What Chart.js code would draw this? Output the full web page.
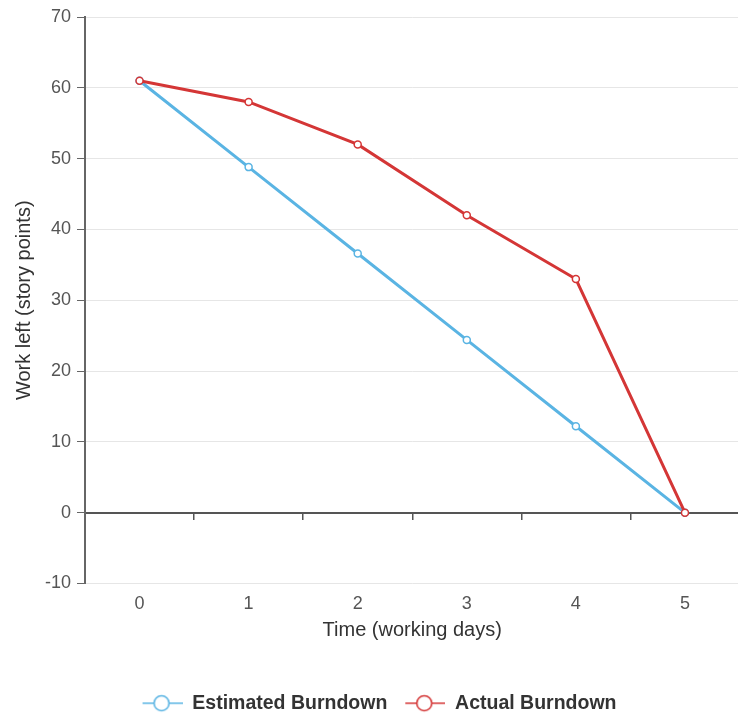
<!DOCTYPE html>
<html>
<head>
<meta charset="utf-8">
<script src="https://cdn.jsdelivr.net/npm/chart.js@4"></script>
<style>
  html, body { margin: 0; padding: 0; background: #fff; overflow: hidden; }
  #wrap { position: absolute; left: 0; top: 0; width: 745px; height: 723px; }
</style>
</head>
<body>
<div id="wrap"><canvas id="chart" width="745" height="723"></canvas></div>
<script>
// data
const days = ["0", "1", "2", "3", "4", "5"];
const estimated = [61, 48.8, 36.6, 24.4, 12.2, 0];
const actual = [61, 58, 52, 42, 33, 0];
const yTicks = { min: -10, max: 70, step: 10 };

const blue = "#5ab4e3";
const red = "#d43636";

Chart.defaults.font.family = "'Liberation Sans', Arial, Helvetica, sans-serif";

// legend icon: short line with an open circle on it
function legendIcon(color) {
  const c = document.createElement("canvas");
  c.width = 54;
  c.height = 20;
  const g = c.getContext("2d");
  g.strokeStyle = color;
  g.lineWidth = 1.6;
  g.beginPath();
  g.moveTo(14, 10);
  g.lineTo(54, 10);
  g.stroke();
  g.beginPath();
  g.arc(33, 10, 7.5, 0, Math.PI * 2);
  g.fillStyle = "#fff";
  g.fill();
  g.stroke();
  return c;
}
const icons = [legendIcon(blue), legendIcon(red)];

const ctx = document.getElementById("chart").getContext("2d");
new Chart(ctx, {
  type: "line",
  data: {
    labels: days,
    datasets: [
      {
        label: "Estimated Burndown",
        data: estimated,
        borderColor: blue,
        backgroundColor: "#fff",
        borderWidth: 3,
        pointRadius: 3.5,
        pointBorderWidth: 1.5,
        pointBackgroundColor: "#fff",
        pointBorderColor: blue,
        tension: 0,
        order: 1,
        xAxisID: "x",
      },
      {
        label: "Actual Burndown",
        data: actual,
        borderColor: red,
        backgroundColor: "#fff",
        borderWidth: 3,
        pointRadius: 3.5,
        pointBorderWidth: 1.5,
        pointBackgroundColor: "#fff",
        pointBorderColor: red,
        tension: 0,
        order: 0,
        xAxisID: "x",
      },
    ],
  },
  options: {
    responsive: false,
    animation: false,
    layout: { padding: { top: 17, left: 0, right: 0, bottom: 0 } },
    plugins: {
      tooltip: { enabled: false },
      legend: {
        position: "bottom",
        labels: {
          usePointStyle: true,
          pointStyleWidth: 54,
          padding: 4,
          color: "#333",
          font: { size: 19.5, weight: "bold" },
          sort: (a, b) => a.datasetIndex - b.datasetIndex,
          generateLabels: (chart) => {
            const items = Chart.defaults.plugins.legend.labels.generateLabels(chart);
            items.forEach((it) => { it.pointStyle = icons[it.datasetIndex]; });
            return items;
          },
        },
      },
    },
    scales: {
      x: {
        type: "category",
        offset: true,
        grid: { display: false, drawTicks: false },
        border: { display: false },
        ticks: { color: "#555", font: { size: 18 }, padding: 10 },
        title: {
          display: true,
          text: "Time (working days)",
          color: "#333",
          font: { size: 20 },
          padding: { top: 0, bottom: 47.5 },
        },
        afterFit: (s) => { s.height = 106; },
      },
      x2: {
        type: "category",
        labels: days,
        offset: true,
        position: { y: 0 },
        grid: {
          offset: true,
          drawOnChartArea: false,
          drawTicks: true,
          tickLength: 6,
          color: (c) => (c.index === 0 ? "rgba(0,0,0,0)" : "#555"),
          lineWidth: 1.5,
        },
        border: { display: true, color: "#555", width: 2 },
        ticks: { display: false },
      },
      y: {
        min: yTicks.min,
        max: yTicks.max,
        ticks: { stepSize: yTicks.step, color: "#555", font: { size: 18 }, padding: 6 },
        grid: {
          color: (c) => (c.tick && c.tick.value === 0 ? "rgba(0,0,0,0)" : "#e6e6e6"),
          tickColor: "#666",
          tickLength: 8,
          lineWidth: 1,
        },
        border: { display: true, color: "#666", width: 2 },
        title: {
          display: true,
          text: "Work left (story points)",
          color: "#333",
          font: { size: 20 },
          padding: { top: 12, bottom: 0 },
        },
        afterFit: (s) => { s.width = 85; },
      },
    },
  },
});
</script>
</body>
</html>
